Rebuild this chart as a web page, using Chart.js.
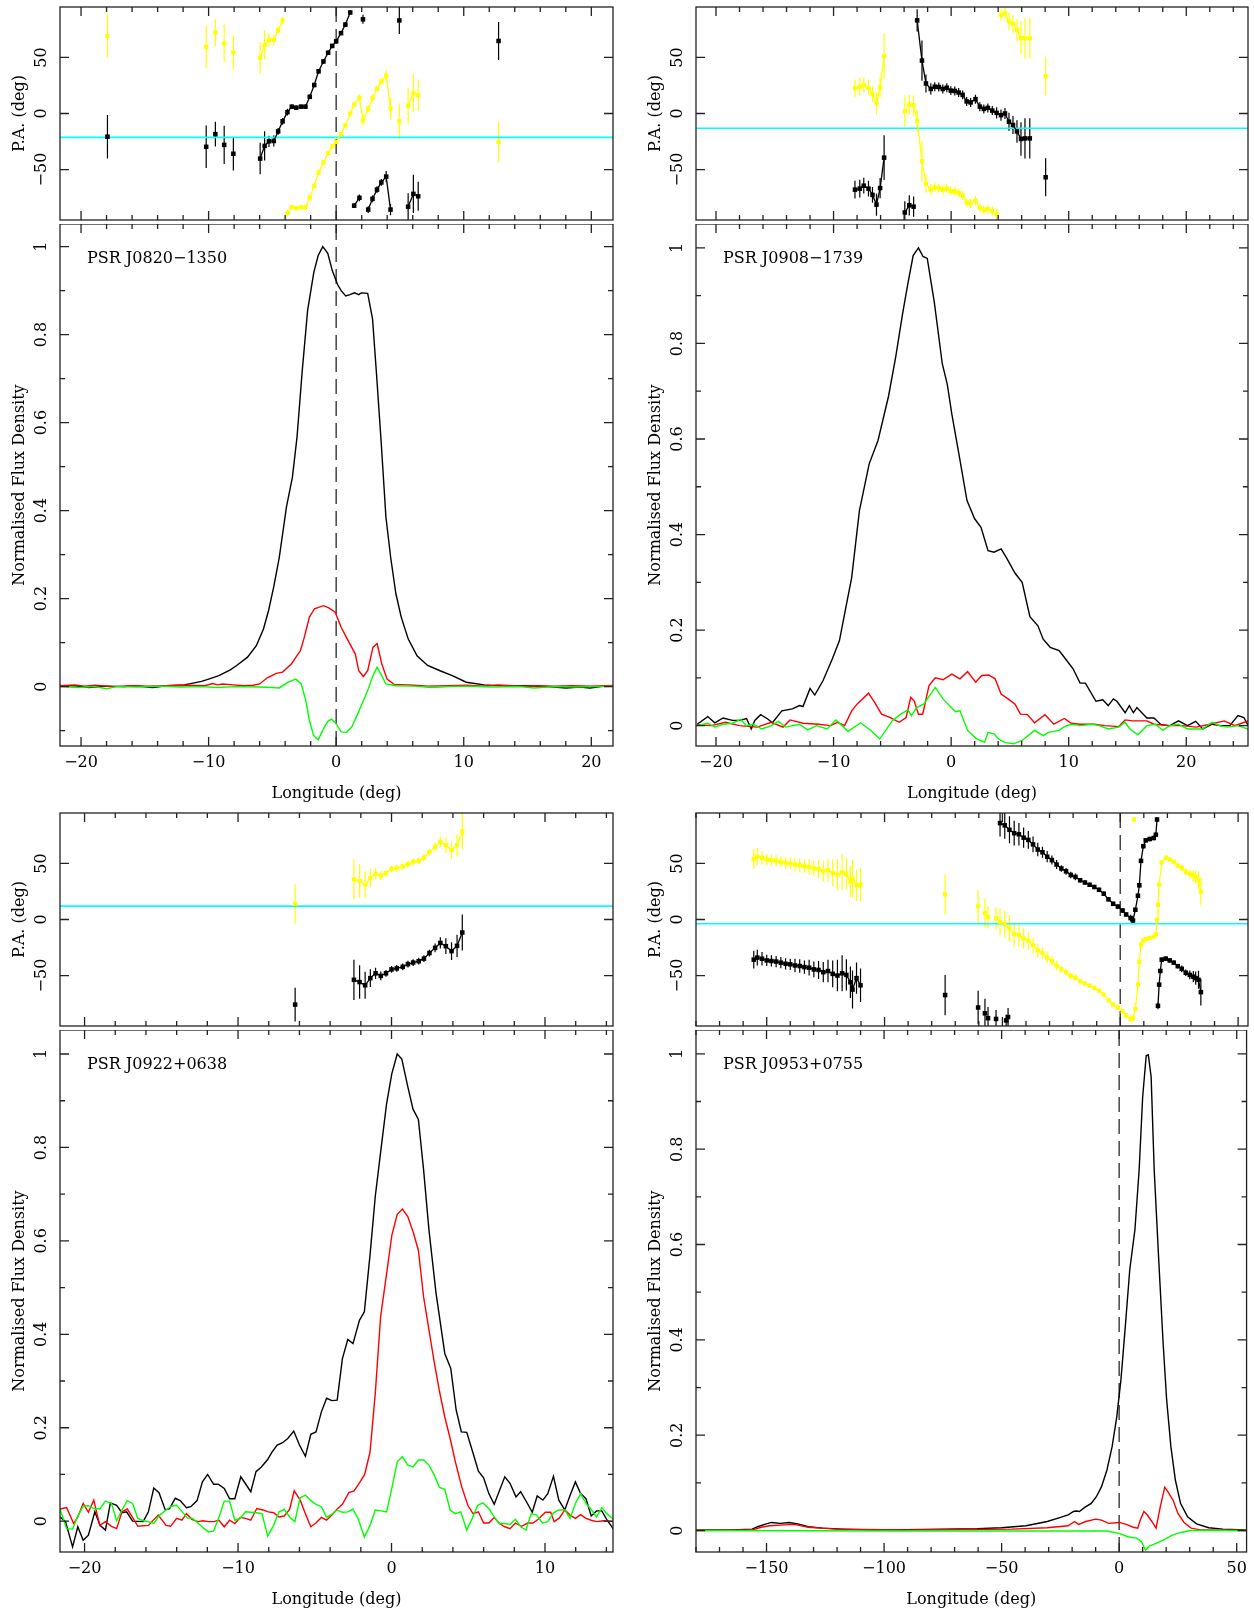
<!DOCTYPE html>
<html>
<head>
<meta charset="utf-8">
<title>Pulsar polarisation profiles</title>
<script src="https://cdn.jsdelivr.net/npm/chart.js@4.4.1/dist/chart.umd.min.js"></script>
<style>
  html, body { margin: 0; padding: 0; background: #fff; }
  #page { position: relative; width: 1254px; height: 1613px; overflow: hidden; }
  #page canvas { position: absolute; }
</style>
</head>
<body>
<div id="page"></div>
<script>
// ---- tick labels ----
const FLUX_TICKS = [0, 0.2, 0.4, 0.6, 0.8, 1];
const PA_TICKS = [-50, 0, 50];

// ---- PSR J0820-1350 : [longitude, flux] ----
const J0820_I = [[-21.63,0.002],[-20.5,0.002],[-19.4,-0.002],[-18.0,0.001],[-16.6,0.0],[-15.8,0.002],[-14.4,-0.002],[-13.3,0.002],[-11.9,0.004],[-10.55,0.012],[-9.7,0.02],[-9.2,0.025],[-8.3,0.038],[-7.8,0.048],[-6.95,0.067],[-6.26,0.093],[-5.7,0.131],[-5.3,0.173],[-4.9,0.226],[-4.46,0.294],[-3.9,0.408],[-3.43,0.476],[-3.07,0.567],[-2.66,0.718],[-2.24,0.855],[-1.75,0.942],[-1.41,0.98],[-1.05,1.0],[-0.66,0.985],[-0.3,0.945],[0.11,0.914],[0.39,0.9],[0.75,0.888],[1.08,0.891],[1.44,0.895],[1.77,0.891],[1.97,0.895],[2.47,0.894],[2.85,0.836],[3.16,0.711],[3.52,0.559],[3.9,0.385],[4.27,0.294],[4.68,0.211],[5.1,0.158],[5.65,0.108],[6.34,0.07],[7.17,0.048],[8.14,0.036],[9.1,0.025],[10.2,0.01],[11.6,0.004],[13.3,0.001],[14.9,0.002],[16.6,0.0],[18.0,-0.003],[19.1,-0.001],[19.9,-0.003],[21.0,0.001],[21.8,0.002]];
const J0820_L = [[-21.63,0.002],[-20.5,0.004],[-19.7,0.001],[-18.9,0.003],[-17.5,0.0],[-16.1,0.002],[-14.7,0.001],[-13.3,0.002],[-11.9,0.003],[-10.3,0.002],[-9.7,0.007],[-9.3,0.004],[-8.9,0.006],[-8.1,0.004],[-7.2,0.002],[-6.5,0.003],[-6.0,0.006],[-5.4,0.02],[-4.7,0.03],[-4.2,0.033],[-3.5,0.052],[-2.8,0.082],[-2.5,0.112],[-2.1,0.158],[-1.7,0.177],[-1.0,0.184],[-0.58,0.179],[-0.08,0.169],[0.39,0.135],[0.8,0.112],[1.22,0.089],[1.5,0.074],[1.77,0.036],[2.13,0.023],[2.47,0.036],[2.88,0.089],[3.21,0.098],[3.57,0.052],[3.99,0.017],[4.54,0.005],[6.1,0.003],[7.2,0.001],[8.8,0.002],[10.2,0.003],[11.6,0.001],[12.7,0.004],[14.4,0.001],[15.8,0.002],[17.1,0.001],[18.5,0.002],[19.9,0.001],[21.8,0.003]];
const J0820_V = [[-21.63,0.0],[-20.2,-0.002],[-18.9,0.0],[-18.0,-0.005],[-17.2,0.0],[-15.5,-0.001],[-13.9,0.001],[-12.2,-0.001],[-10.55,0.0],[-9.4,-0.002],[-7.8,0.0],[-6.1,-0.001],[-5.0,-0.002],[-4.46,-0.003],[-3.77,0.01],[-3.16,0.017],[-2.74,0.006],[-2.38,-0.032],[-2.1,-0.077],[-1.77,-0.111],[-1.41,-0.121],[-1.0,-0.096],[-0.66,-0.079],[-0.36,-0.074],[-0.03,-0.083],[0.39,-0.103],[0.8,-0.104],[1.22,-0.092],[1.63,-0.066],[2.13,-0.032],[2.52,-0.005],[2.88,0.025],[3.21,0.044],[3.57,0.025],[3.9,0.006],[4.68,0.002],[6.1,0.001],[7.5,-0.002],[8.8,0.0],[10.2,0.001],[12.2,-0.001],[14.4,0.0],[15.5,-0.003],[17.1,0.0],[18.8,-0.001],[20.5,0.0],[21.8,0.001]];
// position angle segments: [longitude, PA, error]
const J0820_PA = [
  [[-17.93,-20.7,19.4]], [[-10.19,-29.7,19]], [[-9.47,-18.4,11]], [[-8.78,-28,17]], [[-8.06,-35.9,15]],
  [[-5.96,-40.2,14],[-5.61,-28.9,13],[-5.27,-24.8,5],[-4.89,-24.5,5],[-4.55,-16,3],[-4.2,-7,3],[-3.82,1.2,3],[-3.48,6.1,2],[-3.13,5.2,2],[-2.76,6.1,2],[-2.41,6.1,2],[-2.07,14.9,2],[-1.72,25.4,2],[-1.38,37.6,2],[-1.0,46.4,2],[-0.63,54.2,2],[-0.31,60.3,2],[0,64.4,2],[0.38,71.7,2],[0.72,79.3,2],[1.1,90.1,2]],
  [[1.41,-82.2,2],[1.82,-75.2,3]],
  [[2.1,84,4]],
  [[2.51,-85.7,3],[2.85,-76.1,3],[3.2,-67.9,3],[3.54,-61.5,3],[3.92,-56.3,5],[4.26,-85.7,5]],
  [[4.95,83,12]],
  [[5.64,-83.1,12],[6.05,-71.7,17],[6.43,-73.8,13]],
  [[12.73,64.7,17]]
];
const J0820_PA90 = [
  [[-17.93,69.1,19.7]], [[-10.19,59.5,19]], [[-9.47,72,12]], [[-8.78,62.4,17]], [[-8.06,54.5,15]],
  [[-5.96,49.6,14],[-5.61,61.2,13],[-5.27,65.6,6],[-4.89,65.6,5],[-4.55,74.3,3],[-4.2,83.1,3]],
  [[-3.82,-88.9,3],[-3.48,-83.4,2],[-3.13,-84.5,2],[-2.76,-83.7,2],[-2.41,-83.7,2],[-2.07,-74.9,2],[-1.72,-64.4,2],[-1.38,-52.5,2],[-1.0,-43.7,2],[-0.63,-35.3,2],[-0.31,-29.4,2],[0,-25.4,2],[0.38,-18.4,2],[0.72,-10.5,2],[1.1,0,2],[1.41,7.9,2],[1.82,14,3],[2.1,-6.1,5],[2.51,4.4,3],[2.85,14,3],[3.2,21.9,3],[3.54,28.6,3],[3.92,33.8,5],[4.26,4.4,10]],
  [[4.95,-7,16]],
  [[5.64,7,16],[6.05,18.1,17],[6.43,16.3,14]],
  [[12.73,-25.4,18]]
];
const J0820_PAREF = -21.3;

// ---- PSR J0908-1739 ----
const J0908_I = [[-21.6,0.003],[-20.7,0.019],[-20.1,0.006],[-19.4,0.016],[-18.6,0.011],[-18.0,0.011],[-17.4,0.015],[-17.0,-0.007],[-16.7,0.011],[-16.2,0.023],[-15.6,0.014],[-15.2,0.006],[-14.4,0.031],[-13.5,0.035],[-12.9,0.042],[-12.6,0.04],[-12.0,0.078],[-11.6,0.064],[-10.9,0.094],[-10.1,0.14],[-9.5,0.178],[-9.06,0.234],[-8.46,0.31],[-7.8,0.45],[-6.97,0.548],[-6.22,0.597],[-5.32,0.69],[-4.72,0.771],[-4.13,0.862],[-3.68,0.925],[-3.23,0.984],[-2.78,1.0],[-2.39,0.982],[-2.03,0.978],[-1.43,0.886],[-0.75,0.757],[-0.33,0.715],[0.06,0.652],[0.66,0.569],[1.35,0.471],[2.0,0.433],[2.54,0.415],[3.14,0.366],[3.65,0.363],[4.25,0.37],[4.69,0.352],[5.44,0.319],[6.04,0.3],[6.7,0.228],[7.38,0.209],[7.83,0.181],[8.43,0.164],[9.18,0.157],[9.72,0.14],[10.37,0.119],[10.97,0.089],[11.42,0.089],[12.32,0.051],[12.9,0.054],[13.36,0.042],[13.8,0.056],[14.1,0.051],[14.8,0.027],[15.16,0.042],[15.5,0.027],[15.8,0.038],[16.65,0.016],[17.25,0.016],[17.85,0.002],[18.6,0.0],[19.34,0.01],[20.1,0.0],[20.8,0.009],[21.4,-0.007],[22.2,0.003],[22.9,0.0],[23.7,0.0],[24.4,0.021],[24.9,0.017],[25.26,0.0]];
const J0908_L = [[-21.6,0.002],[-20.4,0.0],[-19.2,0.007],[-18.0,0.0],[-16.5,-0.003],[-15.3,0.007],[-14.3,-0.003],[-13.7,0.012],[-12.6,0.005],[-11.3,0.003],[-10.25,0.0],[-9.66,0.007],[-9.06,0.0],[-8.46,0.031],[-8.0,0.045],[-7.03,0.068],[-6.52,0.049],[-5.92,0.024],[-5.17,0.017],[-4.42,0.007],[-3.83,0.017],[-3.44,0.059],[-3.14,0.052],[-2.78,0.024],[-2.42,0.024],[-1.88,0.084],[-1.35,0.1],[-0.69,0.096],[0.06,0.108],[0.75,0.098],[1.4,0.113],[2.09,0.091],[2.6,0.105],[3.2,0.106],[3.74,0.098],[4.25,0.066],[4.84,0.056],[5.44,0.045],[5.89,0.024],[6.49,0.023],[7.09,0.006],[7.98,0.023],[8.73,0.003],[9.63,0.015],[10.22,0.005],[10.97,0.003],[12.17,0.003],[13.06,0.0],[14.26,-0.002],[14.8,0.012],[15.46,0.01],[16.05,0.01],[16.65,0.01],[17.25,0.003],[18.45,0.0],[19.64,0.0],[20.84,-0.003],[22.03,0.003],[23.23,0.01],[24.13,0.0],[25.26,0.01]];
const J0908_V = [[-21.6,0.0],[-20.7,0.005],[-20.1,-0.003],[-19.4,0.003],[-18.6,0.005],[-17.9,0.013],[-17.4,0.0],[-16.8,0.003],[-16.1,-0.007],[-15.3,0.0],[-14.7,0.009],[-14.1,-0.003],[-12.9,0.003],[-12.2,-0.009],[-11.45,0.0],[-10.55,-0.007],[-9.8,0.012],[-8.76,-0.012],[-7.71,0.006],[-6.82,-0.01],[-6.07,-0.028],[-5.02,0.01],[-4.28,0.024],[-3.68,0.033],[-3.38,0.021],[-2.93,0.038],[-2.33,0.045],[-1.35,0.08],[-0.69,0.056],[0.36,0.029],[0.75,0.031],[1.4,-0.01],[2.15,-0.027],[2.84,-0.035],[3.14,-0.014],[3.65,-0.017],[4.04,-0.028],[4.54,-0.035],[5.29,-0.038],[6.04,-0.031],[7.09,-0.01],[7.83,-0.021],[8.28,-0.014],[9.18,-0.01],[9.63,-0.002],[10.22,0.003],[10.97,0.0],[12.02,0.003],[12.6,0.0],[13.36,-0.007],[14.26,-0.003],[14.8,0.007],[15.2,-0.007],[15.9,-0.019],[16.65,0.0],[17.4,0.003],[18.0,-0.01],[18.6,0.0],[19.34,0.003],[20.1,-0.007],[20.84,-0.007],[21.4,-0.007],[22.2,0.007],[22.8,0.0],[23.5,-0.003],[24.4,0.0],[25.26,-0.007]];
const J0908_PA = [
  [[-8.18,-67.9,8],[-7.77,-67,8],[-7.43,-64.4,7],[-7.03,-67,7],[-6.69,-72.6,7],[-6.35,-81.3,10],[-6.04,-66.5,9],[-5.7,-39.4,20]],
  [[-3.94,-88.3,10],[-3.56,-81.9,9],[-3.19,-83.1,9]],
  [[-2.89,83.1,10],[-2.48,47.2,18],[-2.14,26.8,8],[-1.73,21.9,5],[-1.39,23.9,4],[-1.05,23.6,4],[-0.71,21.9,4],[-0.37,23,4],[-0.03,20.4,4],[0.31,20.1,4],[0.64,18.7,4],[0.98,16.6,4],[1.32,10.8,4],[1.66,9.9,4],[2.07,12.8,4],[2.44,6.1,4],[2.78,4.1,4],[3.12,5,4],[3.5,2.6,4],[3.87,0.6,5],[4.24,-1.5,5],[4.58,0,5],[4.92,-7.3,8],[5.26,-10.2,8],[5.6,-16,10],[5.94,-22.7,15],[6.28,-22.2,18],[6.69,-22.2,18]],
  [[8.04,-56.9,17]]
];
const J0908_PA90 = [
  [[-8.18,22.4,8],[-7.77,23.9,8],[-7.43,25.4,7],[-7.03,23,7],[-6.69,17.5,7],[-6.35,9,10],[-6.04,23.3,9],[-5.7,51,20]],
  [[-3.94,2,14],[-3.56,7.9,9],[-3.19,7.3,9],[-2.89,-6.7,10],[-2.48,-42.6,18],[-2.14,-62.7,8],[-1.73,-67.9,5],[-1.39,-65.9,4],[-1.05,-66.5,4],[-0.71,-67.9,4],[-0.37,-66.8,4],[-0.03,-69.4,4],[0.31,-69.4,4],[0.64,-70.8,4],[0.98,-73.2,4],[1.32,-79.6,4],[1.66,-80.2,4],[2.07,-77.6,4],[2.44,-84,4],[2.78,-86,4],[3.12,-85.4,4],[3.5,-86.9,4],[3.87,-89.8,5]],
  [[4.24,88,5],[4.58,89.5,5],[4.92,82.2,8],[5.26,79.9,8],[5.6,74.3,10],[5.94,67.1,15],[6.28,67.1,18],[6.69,67.1,18]],
  [[8.04,33.2,17]]
];
const J0908_PAREF = -13.1;

// ---- PSR J0922+0638 ----
const J0922_I = [[-21.59,0.009],[-21.24,-0.001],[-20.78,-0.055],[-20.44,-0.012],[-20.09,-0.041],[-19.75,-0.03],[-19.33,0.02],[-18.99,-0.009],[-18.64,-0.019],[-18.32,0.039],[-17.91,0.034],[-17.56,0.018],[-17.26,0.02],[-16.87,0.0],[-16.18,-0.001],[-15.84,0.02],[-15.49,0.071],[-15.15,0.061],[-14.74,0.024],[-14.46,0.027],[-14.09,0.049],[-13.77,0.044],[-13.36,0.029],[-13.08,0.031],[-12.67,0.044],[-12.32,0.084],[-11.98,0.1],[-11.59,0.079],[-11.29,0.079],[-10.9,0.07],[-10.55,0.048],[-10.21,0.048],[-9.82,0.095],[-9.17,0.063],[-8.83,0.106],[-8.48,0.116],[-8.07,0.132],[-7.79,0.148],[-7.45,0.163],[-7.1,0.168],[-6.76,0.177],[-6.37,0.193],[-6.0,0.163],[-5.61,0.139],[-5.26,0.186],[-4.92,0.191],[-4.57,0.234],[-4.23,0.263],[-3.89,0.258],[-3.54,0.259],[-3.2,0.348],[-2.85,0.389],[-2.51,0.38],[-2.09,0.43],[-1.77,0.448],[-1.4,0.57],[-1.06,0.695],[-0.71,0.79],[-0.32,0.894],[0.02,0.958],[0.37,1.0],[0.67,0.989],[1.06,0.93],[1.4,0.882],[1.75,0.86],[2.09,0.752],[2.44,0.623],[2.9,0.488],[3.47,0.359],[3.86,0.327],[4.21,0.238],[4.55,0.191],[4.9,0.19],[5.31,0.146],[5.66,0.107],[6.0,0.093],[6.34,0.059],[6.69,0.036],[7.38,0.095],[7.72,0.081],[8.11,0.052],[8.41,0.063],[8.8,0.041],[9.17,0.019],[9.49,0.054],[9.86,0.045],[10.18,0.059],[10.55,0.096],[10.9,0.045],[11.29,0.024],[11.63,0.055],[11.98,0.084],[12.32,0.059],[12.67,0.048],[13.01,0.011],[13.36,0.022],[13.7,0.022],[14.05,0.002],[14.46,-0.017]];
const J0922_L = [[-21.59,0.026],[-21.17,0.029],[-20.71,-0.005],[-20.44,0.009],[-20.09,0.038],[-19.75,0.019],[-19.4,0.045],[-19.01,-0.009],[-18.64,-0.001],[-18.25,-0.011],[-17.91,-0.016],[-17.56,0.02],[-17.22,0.026],[-16.87,0.008],[-16.53,-0.011],[-15.84,-0.009],[-15.2,0.013],[-14.69,-0.009],[-14.39,-0.011],[-14.0,0.006],[-13.66,0.002],[-13.36,0.016],[-13.01,0.004],[-12.62,-0.001],[-12.28,0.001],[-11.93,-0.001],[-11.59,-0.001],[-11.24,0.002],[-10.9,-0.012],[-10.55,0.002],[-10.21,-0.005],[-9.86,0.008],[-9.52,0.006],[-9.17,0.002],[-8.78,0.027],[-8.37,0.024],[-8.02,0.02],[-7.68,0.018],[-7.33,0.009],[-6.99,0.011],[-6.64,0.025],[-6.34,0.065],[-5.95,0.045],[-5.61,0.016],[-5.26,-0.012],[-4.92,-0.004],[-4.57,0.008],[-4.23,0.002],[-3.89,0.013],[-3.54,0.026],[-3.2,0.036],[-2.78,0.061],[-2.44,0.065],[-2.09,0.082],[-1.75,0.1],[-1.4,0.148],[-1.06,0.273],[-0.71,0.438],[-0.32,0.53],[0.02,0.612],[0.37,0.657],[0.71,0.668],[1.06,0.652],[1.4,0.62],[1.75,0.58],[2.09,0.48],[2.44,0.409],[2.78,0.341],[3.13,0.277],[3.47,0.223],[3.82,0.177],[4.16,0.127],[4.57,0.074],[4.97,0.034],[5.31,0.016],[5.66,0.02],[6.0,-0.004],[6.34,-0.004],[6.69,0.008],[7.03,-0.005],[7.38,-0.012],[7.72,-0.016],[8.07,-0.004],[8.48,-0.011],[8.87,-0.004],[9.22,-0.004],[9.56,0.004],[10.02,0.019],[10.37,0.019],[10.6,-0.001],[10.94,0.007],[11.29,0.024],[11.63,0.013],[11.98,0.006],[12.32,0.014],[12.67,0.006],[13.01,0.002],[13.36,-0.001],[13.82,0.001],[14.46,-0.001]];
const J0922_V = [[-21.59,0.025],[-21.17,-0.016],[-20.78,-0.017],[-20.44,0.011],[-20.09,0.032],[-19.75,0.033],[-19.4,0.027],[-19.01,0.026],[-18.64,0.043],[-18.25,0.038],[-17.91,0.001],[-17.56,0.024],[-17.22,0.044],[-16.87,0.038],[-16.53,0.006],[-16.18,0.001],[-15.84,-0.001],[-15.49,-0.005],[-15.1,0.013],[-14.69,0.024],[-14.34,0.032],[-14.0,0.034],[-13.66,0.021],[-13.31,0.007],[-12.97,0.006],[-12.62,-0.004],[-12.28,-0.014],[-11.93,-0.023],[-11.59,-0.021],[-11.24,0.009],[-10.9,0.043],[-10.55,0.043],[-10.21,0.002],[-9.86,0.006],[-9.52,0.02],[-9.17,0.019],[-8.78,0.018],[-8.44,0.016],[-8.07,-0.032],[-7.68,-0.009],[-7.33,0.02],[-6.99,0.025],[-6.64,0.009],[-6.3,-0.001],[-5.95,0.05],[-5.61,0.056],[-5.26,0.044],[-4.92,0.036],[-4.57,0.031],[-4.23,0.008],[-3.89,0.015],[-3.54,0.024],[-3.2,0.019],[-2.85,0.02],[-2.51,0.026],[-2.16,0.004],[-1.77,-0.034],[-1.4,-0.009],[-1.06,0.024],[-0.67,0.022],[-0.32,0.02],[0.02,0.07],[0.37,0.127],[0.71,0.138],[1.06,0.12],[1.4,0.116],[1.75,0.131],[2.09,0.131],[2.44,0.12],[2.78,0.099],[3.13,0.072],[3.47,0.068],[3.82,0.024],[4.16,0.016],[4.51,0.02],[4.9,-0.019],[5.26,0.006],[5.61,0.034],[5.95,0.039],[6.34,0.027],[6.69,0.009],[7.03,-0.005],[7.38,-0.005],[7.72,-0.007],[8.07,0.004],[8.41,-0.012],[8.76,-0.019],[9.1,0.016],[9.45,0.013],[9.84,-0.004],[10.18,-0.001],[10.55,0.018],[10.9,0.024],[11.29,0.024],[11.63,0.006],[11.98,0.038],[12.32,0.059],[12.67,0.038],[13.01,0.025],[13.36,0.009],[13.7,0.029],[14.05,0.015],[14.46,0.004]];
const J0922_PA = [
  [[-6.28,-75.9,15]],
  [[-2.45,-53.8,18],[-2.08,-55.8,15],[-1.72,-58.7,12],[-1.38,-52.3,8],[-1.04,-48,5],[-0.7,-50.3,4],[-0.36,-48,3],[0,-44.5,3],[0.34,-43.6,3],[0.73,-42.2,3],[1.07,-39.8,3],[1.41,-38.4,3],[1.77,-37.2,3],[2.11,-34.9,3],[2.47,-29.9,3],[2.84,-25.3,4],[3.18,-20.9,5],[3.54,-23.8,7],[3.91,-28.2,8],[4.27,-23.5,10],[4.61,-11.6,16]]
];
const J0922_PA90 = [
  [[-6.28,14,18]],
  [[-2.45,35.8,18],[-2.08,34.3,15],[-1.72,31.1,12],[-1.38,37.2,8],[-1.04,40.7,5],[-0.7,39.2,4],[-0.36,41.3,3],[0,45.1,3],[0.34,45.9,3],[0.73,47.4,3],[1.07,49.4,3],[1.41,51.5,3],[1.77,52.3,3],[2.11,55.2,3],[2.47,60.2,3],[2.84,64.8,4],[3.18,69.2,5],[3.54,66.3,7],[3.91,61.9,8],[4.27,66.3,10],[4.61,78.5,16]]
];
const J0922_PAREF = 11.9;

// ---- PSR J0953+0755 ----
const J0953_I = [[-180,0.001],[-165,0.001],[-156.1,0.003],[-153.8,0.008],[-150.1,0.014],[-147.9,0.017],[-144.1,0.015],[-140.4,0.017],[-136.7,0.014],[-132.2,0.008],[-126.2,0.005],[-117.3,0.003],[-105.3,0.001],[-90.4,0.002],[-75.4,0.003],[-60.5,0.004],[-50.0,0.006],[-39.6,0.01],[-30.6,0.019],[-24.6,0.028],[-21.7,0.033],[-19.4,0.04],[-18.4,0.041],[-16.9,0.04],[-14.5,0.049],[-11.9,0.057],[-9.7,0.071],[-7.5,0.092],[-5.2,0.127],[-3.0,0.176],[-1.0,0.239],[0.75,0.316],[2.5,0.421],[4.5,0.547],[6.7,0.631],[8.5,0.757],[10.0,0.91],[11.5,0.996],[12.4,0.998],[13.6,0.952],[14.9,0.757],[16.9,0.561],[18.7,0.393],[20.2,0.274],[22.0,0.176],[23.9,0.106],[26.1,0.057],[29.1,0.029],[32.9,0.014],[38.1,0.006],[44.1,0.003],[54.2,0.001]];
const J0953_L = [[-180,0.0],[-156.1,0.001],[-152.3,0.007],[-148.6,0.01],[-142.6,0.012],[-138.2,0.013],[-132.2,0.007],[-120.2,0.003],[-90.4,0.001],[-45.6,0.003],[-30.6,0.006],[-21.7,0.01],[-19.0,0.019],[-17.2,0.013],[-14.2,0.019],[-10.0,0.024],[-7.5,0.022],[-4.5,0.015],[0,0.017],[3.0,0.013],[6.0,0.007],[7.9,0.005],[9.0,0.022],[10.5,0.04],[11.9,0.033],[13.9,0.019],[15.7,0.005],[17.5,0.05],[19.4,0.091],[20.9,0.08],[22.9,0.064],[25.0,0.036],[27.6,0.017],[30.6,0.005],[35.1,0.001],[54.2,0.0]];
const J0953_V = [[-180,0.0],[-90.4,-0.001],[-15.7,-0.001],[-5.2,-0.001],[0,-0.006],[3.7,-0.013],[7.5,-0.016],[9.4,-0.023],[11.2,-0.041],[13.0,-0.032],[15.7,-0.027],[18.7,-0.02],[22.4,-0.01],[26.1,-0.004],[30.6,0.0],[54.2,0.0]];
const J0953_PA = [
  [[-155.5,-35.8,8],[-154,-34,7],[-152,-35,6],[-150,-36.5,5],[-148,-37,5],[-146,-37.5,5],[-144,-38.5,5],[-142,-39.5,5],[-140,-40,5],[-138,-41,6],[-136,-41.5,6],[-134,-42.5,6],[-132,-43,7],[-130,-44.5,7],[-128,-45,8],[-126,-47,9],[-124,-46,10],[-122,-48.5,12],[-120,-50,14],[-118,-48,16],[-116.2,-49.4,14],[-114.5,-56,14],[-113.6,-62.5,17],[-111.9,-52.3,14],[-110.2,-58.7,15]],
  [[-74.3,-67.4,18]], [[-60.3,-78.5,15]], [[-57.4,-83.7,13]], [[-56.1,-88,10]], [[-52.7,-88.7,8]], [[-48.4,-90,5]], [[-47.6,-87,8]],
  [[-51,86,12],[-49,84,12],[-47,80,12],[-45,77,11],[-43,76,10],[-41,73,9],[-39,71,8],[-37,67,7],[-35,62.4,6],[-33,60,5],[-31,56,5],[-29,53,4],[-27,49,4],[-25,45.5,3],[-23,43,3],[-21,39.7,3],[-19,38,3],[-17,35,2],[-15,33,2],[-13,31,2],[-11,29,2],[-9,26.5,2],[-7,23,2],[-5,18,2],[-3,14,2],[-1,11.5,2],[1,8,2],[2.5,4.5,2],[4.4,1.3,3],[5.4,-0.9,3],[6.4,8.7,2],[7.5,21.2,2],[8.1,30.5,2],[8.8,52.3,2],[9.8,65.4,2],[10.8,70.6,2],[12.5,71.8,2],[14.2,72.7,2],[15.1,75.6,2],[15.6,89.2,2]],
  [[16.0,-77,3],[16.5,-58.1,2],[17.0,-45.9,2],[17.6,-35.8,2],[19.3,-34.9,2],[21,-36.5,2],[22.7,-38.5,2],[24.4,-41.6,2],[26.1,-44,3],[27.8,-47.5,3],[29.5,-49.4,4],[31,-51,5],[32,-52.3,6],[33.2,-53.8,8],[34.2,-64.8,12]]
];
const J0953_PA90 = [
  [[-155.5,54,9],[-154,56,8],[-152,55,6],[-150,53.5,5],[-148,53,5],[-146,52.5,5],[-144,51.5,5],[-142,50.5,5],[-140,50,5],[-138,49,6],[-136,48.5,6],[-134,47.5,6],[-132,47,7],[-130,45.5,7],[-128,45,8],[-126,43,9],[-124,44,10],[-122,41.5,12],[-120,40,14],[-118,42,16],[-116.2,40.7,14],[-114.5,34,14],[-113.6,36.3,17],[-111.9,30.5,14],[-110.2,31.1,15]],
  [[-74.3,22.4,18]], [[-60.3,11.6,15]], [[-57.4,5.8,13]], [[-56.1,2,10]],
  [[-52.7,1,10],[-51,-2,12],[-49,-4,12],[-47,-8,12],[-45,-13,11],[-43,-14,10],[-41,-17,9],[-39,-19,8],[-37,-23,7],[-35,-27.6,6],[-33,-30,5],[-31,-34,5],[-29,-37,4],[-27,-41,4],[-25,-44.5,3],[-23,-47,3],[-21,-50.3,3],[-19,-52,3],[-17,-55,2],[-15,-57,2],[-13,-59,2],[-11,-61,2],[-9,-63.5,2],[-7,-67,2],[-5,-72,2],[-3,-76,2],[-1,-78.5,2],[1,-82,2],[2.5,-85.5,2],[4.4,-88.7,3],[5.4,-88,3],[6.4,-79.9,2],[7.5,-58.1,2],[8.1,-37.8,2],[8.8,-22.4,2],[9.8,-18.9,2],[10.8,-17.4,2],[12.5,-16.6,2],[14.2,-15.4,2],[15.1,-13.1,2],[15.6,0,2],[16.0,13.1,2],[16.5,31.1,2],[17.6,50.9,2],[19.3,55.2,2],[21,53.5,2],[22.7,51.5,2],[24.4,48,2],[26.1,46,3],[27.8,42.5,3],[29.5,40.7,4],[31,39,5],[32,37.8,6],[33.2,34.9,8],[34.2,24.7,12]],
  [[5.8,89.2,2]]
];
const J0953_PAREF = -3.8;

// ---- panel set-up ----
const PULSARS = [
  { name: 'PSR J0820−1350', col: 0, row: 0, lon: [-21.65, 21.7], flux: [-0.135, 1.0515], xMajor: 10, xMinor: 2,
    I: J0820_I, L: J0820_L, V: J0820_V, pa: J0820_PA, pa90: J0820_PA90, paRef: J0820_PAREF, zero: true },
  { name: 'PSR J0908−1739', col: 1, row: 0, lon: [-21.7, 25.25], flux: [-0.0426, 1.05], xMajor: 10, xMinor: 2,
    I: J0908_I, L: J0908_L, V: J0908_V, pa: J0908_PA, pa90: J0908_PA90, paRef: J0908_PAREF, zero: false },
  { name: 'PSR J0922+0638', col: 0, row: 1, lon: [-21.6, 14.43], flux: [-0.066, 1.0514], xMajor: 10, xMinor: 2,
    I: J0922_I, L: J0922_L, V: J0922_V, pa: J0922_PA, pa90: J0922_PA90, paRef: J0922_PAREF, zero: false },
  { name: 'PSR J0953+0755', col: 1, row: 1, lon: [-180, 54.2], flux: [-0.045, 1.05], xMajor: 50, xMinor: 10,
    I: J0953_I, L: J0953_L, V: J0953_V, pa: J0953_PA, pa90: J0953_PA90, paRef: J0953_PAREF, zero: true }
];

const FONT = { family: "'DejaVu Serif', 'Liberation Serif', serif", size: 16 };
const COL_LEFT = [0, 636], COL_W = [627, 618], COL_PAD_R = [14, 6];
const PA_TOP = [0, 807], PA_H = [224, 223], PA_PAD_T = [7, 6];
const PROF_TOP = [224, 1030], PROF_H = 583, AXIS_H = 61, Y_AXIS_W = 60;
const PA_RANGE = [-95, 95];

const minus = v => (v < 0 ? '\u2212' + Math.abs(v) : String(v));

// PGPLOT-like frame: box, inward ticks on all sides, rotated y labels, name tag, error bars
const pgFrame = {
  id: 'pgFrame',
  beforeDatasetsDraw(chart) {
    const { ctx, chartArea: a, scales: { x, y } } = chart;
    ctx.save();
    ctx.beginPath();
    ctx.rect(a.left, a.top, a.right - a.left, a.bottom - a.top);
    ctx.clip();
    chart.data.datasets.forEach(ds => {
      if (!ds.errBars) return;
      ctx.strokeStyle = ds.borderColor;
      ctx.lineWidth = 1.2;
      ctx.beginPath();
      ds.data.forEach(p => {
        if (p.y == null) return;
        const px = x.getPixelForValue(p.x);
        ctx.moveTo(px, y.getPixelForValue(p.y - p.err));
        ctx.lineTo(px, y.getPixelForValue(p.y + p.err));
      });
      ctx.stroke();
    });
    ctx.restore();
  },
  afterDraw(chart, args, o) {
    const { ctx, chartArea: a, scales: { x, y } } = chart;
    ctx.save();
    ctx.strokeStyle = '#222';
    ctx.lineWidth = 1.3;
    ctx.strokeRect(a.left, a.top, a.right - a.left, a.bottom - a.top);

    const ticks = (scale, step, len) => {
      if (!step) return;
      const k0 = Math.ceil(scale.min / step - 1e-6), k1 = Math.floor(scale.max / step + 1e-6);
      for (let k = k0; k <= k1; k++) {
        const p = scale.getPixelForValue(k * step);
        if (scale.isHorizontal()) {
          ctx.moveTo(p, a.bottom); ctx.lineTo(p, a.bottom - len);
          ctx.moveTo(p, a.top); ctx.lineTo(p, a.top + len);
        } else {
          ctx.moveTo(a.left, p); ctx.lineTo(a.left + len, p);
          ctx.moveTo(a.right, p); ctx.lineTo(a.right - len, p);
        }
      }
    };
    ctx.beginPath();
    ticks(x, o.xMajor, 9);
    ticks(x, o.xMinor, 5);
    ticks(y, o.yMajor, 9);
    ticks(y, o.yMinor, 5);
    ctx.stroke();

    ctx.fillStyle = '#000';
    ctx.font = FONT.size + 'px ' + FONT.family;
    ctx.textAlign = 'center';
    ctx.textBaseline = 'middle';
    (o.yLabels || []).forEach(v => {
      const py = y.getPixelForValue(v);
      ctx.save();
      ctx.translate(a.left - 18, py);
      ctx.rotate(-Math.PI / 2);
      ctx.fillText(minus(v), 0, 0);
      ctx.restore();
    });
    if (o.label) {
      ctx.textAlign = 'left';
      ctx.fillText(o.label, a.left + 27, a.top + 35);
    }
    ctx.restore();
  }
};

function segData(segs) {
  const out = [];
  segs.forEach(seg => {
    seg.forEach(([x, y, err]) => out.push({ x, y, err }));
    out.push({ x: seg[seg.length - 1][0], y: null, err: 0 });
  });
  return out;
}

function yTitle(text) {
  return { display: true, text, color: '#000', font: FONT, padding: { top: 10, bottom: 0 } };
}

function makeCanvas(left, top, w, h) {
  const c = document.createElement('canvas');
  c.width = w; c.height = h;
  c.style.left = left + 'px'; c.style.top = top + 'px';
  c.style.width = w + 'px'; c.style.height = h + 'px';
  document.getElementById('page').appendChild(c);
  return c;
}

PULSARS.forEach(p => {
  const left = COL_LEFT[p.col], w = COL_W[p.col];

  // position angle panel
  const paDatasets = [
    { data: segData(p.pa), borderColor: '#000', backgroundColor: '#000', errBars: true, order: 0,
      borderWidth: 1.3, pointStyle: 'rect', pointRadius: 3.2, pointBorderWidth: 0 },
    { data: segData(p.pa90), borderColor: '#ffff00', backgroundColor: '#ffff00', errBars: true, order: 1,
      borderWidth: 1.3, pointStyle: 'rect', pointRadius: 3, pointBorderWidth: 0 },
    { data: [{ x: p.lon[0], y: p.paRef }, { x: p.lon[1], y: p.paRef }], borderColor: '#00ffff',
      borderWidth: 1.6, pointRadius: 0, order: 2 }
  ];
  if (p.zero) {
    paDatasets.push({ data: [{ x: 0, y: PA_RANGE[0] }, { x: 0, y: PA_RANGE[1] }], borderColor: '#444',
      borderWidth: 1.5, borderDash: [15, 7], pointRadius: 0, order: 3 });
  }
  new Chart(makeCanvas(left, PA_TOP[p.row], w, PA_H[p.row]), {
    type: 'line',
    data: { datasets: paDatasets },
    options: {
      responsive: false, animation: false, spanGaps: false,
      layout: { padding: { top: PA_PAD_T[p.row], right: COL_PAD_R[p.col], bottom: 0, left: 0 } },
      plugins: { legend: { display: false }, tooltip: { enabled: false },
        pgFrame: { xMajor: p.xMajor, xMinor: p.xMinor, yMajor: 50, yMinor: null, yLabels: PA_TICKS } },
      scales: {
        x: { type: 'linear', min: p.lon[0], max: p.lon[1], display: false },
        y: { type: 'linear', min: PA_RANGE[0], max: PA_RANGE[1],
          ticks: { display: false }, grid: { display: false, drawTicks: false }, border: { display: false },
          title: yTitle('P.A. (deg)'), afterFit: s => { s.width = Y_AXIS_W; } }
      }
    },
    plugins: [pgFrame]
  });

  // total intensity, linear and circular polarisation
  const profDatasets = [
    { data: p.V.map(([x, y]) => ({ x, y })), borderColor: '#00ff00', order: 0 },
    { data: p.L.map(([x, y]) => ({ x, y })), borderColor: '#ff0000', order: 1 },
    { data: p.I.map(([x, y]) => ({ x, y })), borderColor: '#000000', order: 2 }
  ];
  profDatasets.forEach(d => { d.borderWidth = 1.4; d.pointRadius = 0; });
  if (p.zero) {
    profDatasets.push({ data: [{ x: 0, y: p.flux[0] }, { x: 0, y: p.flux[1] }], borderColor: '#444',
      borderWidth: 1.5, borderDash: [15, 7], pointRadius: 0, order: 3 });
  }
  new Chart(makeCanvas(left, PROF_TOP[p.row], w, PROF_H), {
    type: 'line',
    data: { datasets: profDatasets },
    options: {
      responsive: false, animation: false,
      layout: { padding: { top: 0, right: COL_PAD_R[p.col], bottom: 0, left: 0 } },
      plugins: { legend: { display: false }, tooltip: { enabled: false },
        pgFrame: { xMajor: p.xMajor, xMinor: p.xMinor, yMajor: 0.2, yMinor: 0.1, yLabels: FLUX_TICKS, label: p.name } },
      scales: {
        x: { type: 'linear', min: p.lon[0], max: p.lon[1],
          ticks: { stepSize: p.xMajor, includeBounds: false, autoSkip: false, maxRotation: 0, minRotation: 0,
            color: '#000', font: FONT, padding: 7, callback: v => minus(v) },
          grid: { display: false, drawTicks: false }, border: { display: false },
          title: { display: true, text: 'Longitude (deg)', color: '#000', font: FONT, padding: { top: 0, bottom: 4 } },
          afterFit: s => { s.height = AXIS_H; } },
        y: { type: 'linear', min: p.flux[0], max: p.flux[1],
          ticks: { display: false }, grid: { display: false, drawTicks: false }, border: { display: false },
          title: yTitle('Normalised Flux Density'), afterFit: s => { s.width = Y_AXIS_W; } }
      }
    },
    plugins: [pgFrame]
  });
});
</script>
</body>
</html>
